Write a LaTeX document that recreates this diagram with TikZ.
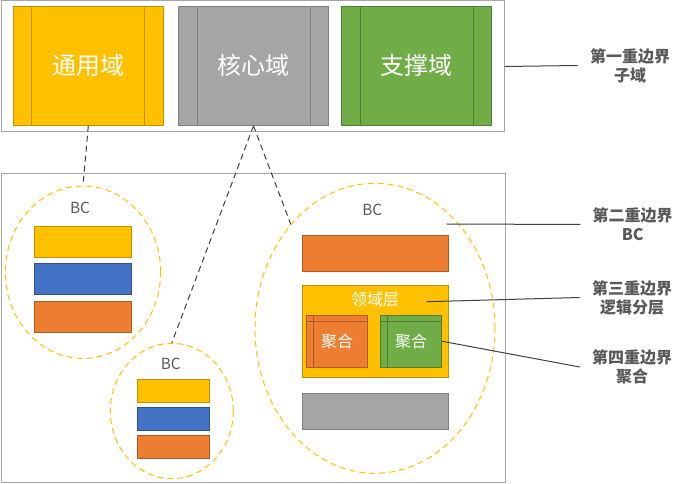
\documentclass[tikz,border=0pt]{standalone}
\usepackage{fontspec}
\newfontfamily\cjk{Noto Sans CJK SC}
\usepackage{xcolor}
\usetikzlibrary{positioning,shapes.geometric}
\definecolor{ylwF}{HTML}{FFC000}
\definecolor{ylwD}{HTML}{BF9000}
\definecolor{gryF}{HTML}{A5A5A5}
\definecolor{gryD}{HTML}{7F7F7F}
\definecolor{grnF}{HTML}{70AD47}
\definecolor{grnD}{HTML}{507E32}
\definecolor{bluF}{HTML}{4472C4}
\definecolor{bluD}{HTML}{2F528F}
\definecolor{orgF}{HTML}{ED7D31}
\definecolor{orgD}{HTML}{AE5A21}
\definecolor{frameC}{HTML}{A6A6A6}
\definecolor{txtC}{HTML}{595959}
\definecolor{lineC}{HTML}{404040}

\begin{document}
\begin{tikzpicture}[
    x=0.75pt,y=-0.75pt,
    every node/.style={font=\cjk,inner sep=0pt},
    frame/.style={draw=frameC,line width=0.75pt},
    dom/.style={minimum width=112.5pt,minimum height=89.25pt,line width=0.75pt,text=white,font=\cjk\fontsize{18}{20}\selectfont},
    bc/.style={ellipse,draw=ylwF,line width=0.75pt,dash pattern=on 4.5pt off 3pt},
    bctxt/.style={text=txtC,font=\cjk\fontsize{11.5}{13}\selectfont},
    bar/.style={line width=0.75pt},
    agg/.style={line width=0.75pt,minimum height=39pt,text=white,font=\cjk\fontsize{12}{14}\selectfont},
    note/.style={align=center,text=txtC,inner xsep=9pt,font=\cjk\bfseries\fontsize{12}{14.25}\selectfont},
    pin/.style={draw=lineC,line width=0.75pt},
    link/.style={draw=lineC,line width=0.75pt,dash pattern=on 4.5pt off 3pt}
  ]
  \useasboundingbox (0,0) rectangle (688,484);
  \node[frame,minimum width=377.25pt,minimum height=98.25pt] (top) at (252.5,66.5) {};
  \node[frame,minimum width=378pt,minimum height=232pt]      (bot) at (253.3,328) {};

  \node[dom,fill=ylwF,draw=ylwD] (gen)  at (88.3,65.8)  {通用域};
  \node[dom,fill=gryF,draw=gryD] (core) at (253.5,65.8) {核心域};
  \node[dom,fill=grnF,draw=grnD] (supp) at (416.5,65.8) {支撑域};
  \foreach \n/\c in {gen/ylwD,core/gryD,supp/grnD} {
    \draw[\c,line width=0.75pt] ([xshift=14.25pt]\n.north west) -- ([xshift=14.25pt]\n.south west);
    \draw[\c,line width=0.75pt] ([xshift=-14.25pt]\n.north east) -- ([xshift=-14.25pt]\n.south east);
  }

  \node[bc,minimum width=116.5pt,minimum height=129.3pt] (bcA) at (83,272.2) {};
  \node[bctxt] (bcAt) at (80,208.3) {BC};
  \node[bar,fill=ylwF,draw=ylwD,minimum width=73pt,minimum height=23.25pt] (bcAy) at (83,242.2) {};
  \node[bar,fill=bluF,draw=bluD,minimum width=73pt,minimum height=23.25pt] (bcAb) at (83,278.8) {};
  \node[bar,fill=orgF,draw=orgD,minimum width=73pt,minimum height=23.25pt] (bcAo) at (83,317) {};

  \node[bc,minimum width=92.25pt,minimum height=101.5pt] (bcB) at (171.8,411) {};
  \node[bctxt] (bcBt) at (170.7,364) {BC};
  \node[bar,fill=ylwF,draw=ylwD,minimum width=54.2pt,minimum height=17.25pt] (bcBy) at (173.2,390.8) {};
  \node[bar,fill=bluF,draw=bluD,minimum width=54.2pt,minimum height=17.25pt] (bcBb) at (173.2,418.8) {};
  \node[bar,fill=orgF,draw=orgD,minimum width=54.2pt,minimum height=17.25pt] (bcBo) at (173.2,446.8) {};

  \node[bc,minimum width=180pt,minimum height=217.5pt] (bcC) at (375,328.3) {};
  \node[bctxt] (bcCt) at (372.3,210) {BC};
  \node[bar,fill=orgF,draw=orgD,minimum width=109.5pt,minimum height=26.8pt] (app)   at (375.3,253.2) {};
  \node[bar,fill=ylwF,draw=ylwD,minimum width=109.5pt,minimum height=68.7pt] (layer) at (375.3,331.5) {};
  \node[text=white,font=\cjk\fontsize{12}{14}\selectfont] (layert) at (375,299.3) {领域层};
  \node[agg,fill=orgF,draw=orgD,minimum width=45.75pt] (aggA) at (337.2,341.3) {聚合};
  \node[agg,fill=grnF,draw=grnD,minimum width=46pt]    (aggB) at (411,341.3)   {聚合};
  \node[bar,fill=gryF,draw=gryD,minimum width=109.5pt,minimum height=27pt]   (infra) at (375.3,411.3) {};
  \foreach \n/\c in {aggA/orgD,aggB/grnD} {
    \draw[\c,line width=0.75pt] ([xshift=5.5pt]\n.north west) -- ([xshift=5.5pt]\n.south west);
    \draw[\c,line width=0.75pt] ([yshift=-5.25pt]\n.north west) -- ([yshift=-5.25pt]\n.north east);
  }

  \node[note] (lab1) at (630,65.5)  {第一重边界\\子域};
  \node[note] (lab2) at (632.7,224.5) {第二重边界\\BC};
  \node[note] (lab3) at (632,297.5) {第三重边界\\逻辑分层};
  \node[note] (lab4) at (632,367)   {第四重边界\\聚合};
  \coordinate (bcpin)    at (446.7,224);
  \coordinate (layerpin) at (426.7,301.7);

  \draw[pin] (top.east) -- (lab1.west);
  \draw[pin] (bcpin) -- (lab2.west);
  \draw[pin] (layerpin) -- (lab3.west);
  \draw[pin] (aggB.east) -- (lab4.west);

  \draw[link] (gen.south) -- (bcA.north);
  \draw[link] (core.south) -- (bcB.north);
  \draw[link] (core.south) -- (bcC.129);
\end{tikzpicture}
\end{document}
